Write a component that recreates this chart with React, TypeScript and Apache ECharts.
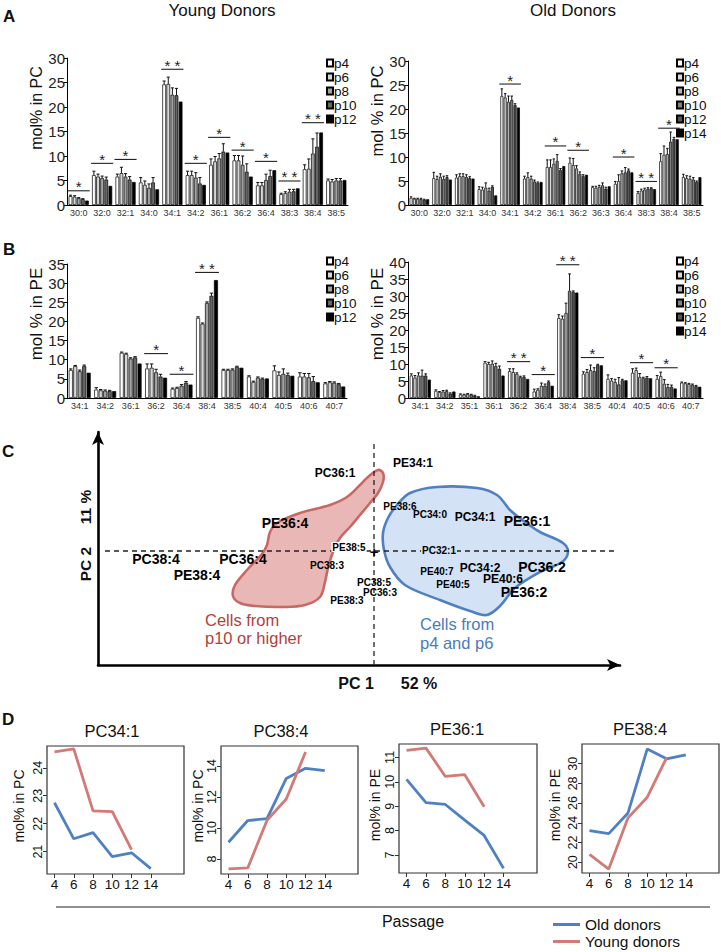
import React, { useEffect, useRef } from 'react';
import * as echarts from 'echarts';

// ---------------- DATA ----------------
const pcYoungCats = ['30:0', '32:0', '32:1', '34:0', '34:1', '34:2', '36:1', '36:2', '36:4', '38:3', '38:4', '38:5'];
const pcOldCats = ['30:0', '32:0', '32:1', '34:0', '34:1', '34:2', '36:1', '36:2', '36:3', '36:4', '38:3', '38:4', '38:5'];
const peYoungCats = ['34:1', '34:2', '36:1', '36:2', '36:4', '38:4', '38:5', '40:4', '40:5', '40:6', '40:7'];
const peOldCats = ['34:1', '34:2', '35:1', '36:1', '36:2', '36:4', '38:4', '38:5', '40:4', '40:5', '40:6', '40:7'];
const youngPassages = ['p4', 'p6', 'p8', 'p10', 'p12'];
const oldPassages = ['p4', 'p6', 'p8', 'p10', 'p12', 'p14'];

// mol% in PC, young donors (rows: p4..p12)
const pcYoungMean = [
  [1.8, 6.1, 5.8, 4.6, 24.6, 6.1, 8.2, 9.1, 4.0, 2.2, 7.3, 5.0],
  [1.7, 5.8, 6.5, 4.1, 24.7, 6.1, 8.9, 9.1, 4.0, 2.4, 7.4, 4.8],
  [1.4, 5.5, 5.8, 3.5, 22.5, 5.6, 9.5, 8.2, 5.1, 2.7, 10.5, 5.0],
  [1.2, 5.2, 5.2, 4.6, 22.4, 4.4, 10.9, 6.8, 5.9, 2.8, 11.9, 5.0],
  [0.9, 3.9, 4.7, 3.2, 21.1, 4.1, 10.7, 5.8, 7.1, 3.4, 14.8, 5.1],
];
const pcYoungErr = [
  [0.2, 0.8, 0.5, 1.0, 0.7, 0.8, 1.2, 1.0, 0.6, 0.2, 0.9, 0.3],
  [0.2, 0.5, 1.2, 0.8, 1.4, 0.8, 1.0, 1.0, 0.6, 0.3, 2.0, 0.4],
  [0.1, 0.4, 0.6, 0.8, 1.4, 1.0, 1.0, 1.8, 1.2, 0.5, 3.0, 0.4],
  [0.1, 0.5, 0.6, 1.0, 1.4, 1.2, 1.6, 1.6, 1.2, 0.4, 2.8, 0.4],
  [0, 0, 0, 0, 0, 0, 0, 0, 0, 0, 0, 0],
];
const pcYoungSig = [[0, 2.9, '*'], [1, 8.5, '*'], [2, 9.3, '*'], [4, 27.7, '* *'], [5, 8.5, '*'], [6, 13.8, '*'], [7, 11.2, '*'], [8, 8.9, '*'], [9, 4.9, '* *'], [10, 16.8, '* *']];

// mol% in PC, old donors (rows: p4..p14)
const pcOldMean = [
  [1.5, 5.6, 5.7, 3.3, 22.7, 5.5, 7.9, 8.8, 3.7, 4.4, 2.5, 9.1, 5.8],
  [1.3, 5.4, 6.0, 3.2, 22.4, 5.8, 7.9, 8.3, 3.6, 5.0, 3.0, 10.5, 5.6],
  [1.3, 5.9, 6.0, 3.6, 21.5, 5.5, 8.6, 7.6, 3.8, 6.6, 3.2, 10.6, 5.5],
  [1.3, 5.4, 5.8, 3.0, 21.9, 4.9, 9.2, 6.5, 4.1, 6.8, 3.4, 13.2, 5.3],
  [1.1, 5.8, 5.6, 3.8, 20.8, 4.6, 7.3, 6.0, 3.4, 7.2, 3.5, 13.8, 4.8],
  [1.2, 5.3, 5.5, 2.0, 20.3, 4.8, 8.1, 6.3, 3.9, 6.8, 3.3, 13.7, 5.8],
];
const pcOldErr = [
  [0.2, 1.2, 0.6, 0.5, 1.5, 0.5, 1.5, 1.0, 0.2, 0.5, 0.3, 1.6, 0.6],
  [0.1, 0.6, 0.5, 0.5, 0.8, 0.9, 1.5, 1.4, 0.3, 1.3, 0.3, 1.8, 0.5],
  [0.1, 0.6, 0.5, 1.0, 1.2, 0.5, 1.0, 0.6, 0.3, 0.5, 0.3, 1.2, 0.5],
  [0.1, 0.6, 0.5, 0.5, 0.8, 0.3, 1.3, 0.4, 0.5, 1.0, 0.2, 2.0, 0.4],
  [0.1, 0.3, 0.3, 0.2, 0.3, 0.2, 0.3, 0.3, 0.3, 0.3, 0.1, 0.3, 0.2],
  [0, 0, 0, 0, 0, 0, 0, 0, 0, 0, 0, 0, 0],
];
const pcOldSig = [[4, 25.2, '*'], [6, 12.3, '*'], [7, 11.4, '*'], [9, 10.0, '*'], [10, 4.9, '* *'], [11, 16.0, '*']];

// mol% in PE, young donors
const peYoungMean = [
  [7.3, 2.2, 11.8, 7.7, 2.4, 20.9, 7.3, 5.6, 7.2, 5.6, 3.8],
  [8.3, 2.0, 11.5, 7.9, 2.6, 19.4, 7.3, 4.2, 6.0, 5.6, 4.1],
  [7.0, 1.9, 10.3, 6.7, 3.2, 24.8, 7.4, 5.3, 6.3, 5.4, 4.0],
  [8.3, 1.8, 10.6, 5.6, 4.0, 26.7, 8.1, 5.0, 6.0, 4.4, 3.6],
  [6.6, 1.8, 9.0, 5.3, 3.5, 30.8, 7.9, 5.1, 5.8, 4.1, 3.0],
];
const peYoungErr = [
  [0.3, 0.5, 0.2, 1.2, 0.2, 0.3, 0.2, 0.2, 1.2, 1.0, 0.2],
  [0.2, 0.2, 0.2, 1.0, 0.2, 0.2, 0.2, 0.2, 0.8, 0.8, 0.2],
  [0.3, 0.2, 0.2, 0.8, 0.3, 0.3, 0.2, 0.2, 1.3, 1.0, 0.2],
  [0.3, 0.2, 0.2, 0.6, 0.3, 0.7, 0.2, 0.2, 0.5, 1.2, 0.2],
  [0, 0, 0, 0, 0, 0, 0, 0, 0, 0, 0],
];
const peYoungSig = [[3, 11.6, '*'], [4, 6.2, '*'], [5, 32.8, '* *']];

// mol% in PE, old donors
const peOldMean = [
  [6.6, 2.1, 1.0, 10.4, 7.9, 1.9, 23.5, 7.1, 5.6, 7.4, 5.6, 4.5],
  [6.0, 1.7, 1.0, 10.0, 7.6, 2.4, 23.3, 7.6, 5.1, 8.2, 6.4, 4.3],
  [6.6, 1.9, 1.2, 10.1, 7.1, 3.6, 25.0, 8.2, 4.7, 6.2, 4.2, 4.1],
  [6.6, 2.0, 1.0, 9.4, 6.1, 3.6, 31.5, 7.9, 4.0, 5.8, 3.2, 3.9],
  [6.6, 1.3, 0.7, 8.6, 6.2, 4.7, 31.2, 9.7, 5.2, 6.0, 3.3, 3.5],
  [5.4, 1.9, 0.5, 6.6, 5.6, 3.6, 31.0, 9.6, 5.2, 5.8, 2.8, 3.3],
];
const peOldErr = [
  [0.5, 0.3, 0.2, 0.3, 0.7, 0.7, 1.0, 0.6, 1.2, 1.2, 1.0, 0.2],
  [0.6, 0.2, 0.1, 0.5, 1.0, 0.3, 0.8, 0.8, 0.6, 0.6, 1.2, 0.2],
  [0.8, 0.3, 0.1, 0.8, 0.3, 0.8, 2.9, 1.5, 0.8, 1.0, 1.2, 0.2],
  [1.6, 0.3, 0.1, 0.8, 0.3, 0.5, 5.0, 1.0, 2.0, 0.3, 0.8, 0.2],
  [0.5, 0.2, 0.1, 0.8, 0.3, 0.3, 0.3, 0.2, 0.3, 0.3, 0.5, 0.2],
  [0, 0, 0, 0, 0, 0, 0, 0, 0, 0, 0, 0],
];
const peOldSig = [[4, 10.7, '* *'], [5, 6.9, '*'], [6, 39.2, '* *'], [7, 11.9, '*'], [9, 10.4, '*'], [10, 8.9, '*']];

// Panel C: scores (PC1, PC2) in arbitrary units
const cLabelNames = ['PC36:1', 'PE34:1', 'PE36:4', 'PC38:4', 'PC36:4', 'PE38:4', 'PE38:5', 'PC38:3', 'PC38:5', 'PC36:3', 'PE38:3', 'PE38:6', 'PC34:0', 'PC34:1', 'PE36:1', 'PC32:1', 'PE40:7', 'PC34:2', 'PC36:2', 'PE40:6', 'PE40:5', 'PE36:2'];
const cLabelPC1 = [-39, 39, -89, -218, -131, -177, -25, -47, 0, 6, -27, 26, 56, 101, 153, 65, 63, 106, 168, 129, 79, 150];
const cLabelPC2 = [78, 88, 28, -8, -8, -24, 4, -14, -31, -41, -49, 45, 37, 34, 30, 1, -20, -17, -16, -28, -33, -41];
const lateRegion = [[4, 81], [9, 78], [9, 69], [4, 58], [-4, 48], [-14, 36], [-24, 24], [-34, 13], [-41, -1], [-46, -17], [-49, -31], [-54, -46], [-69, -54], [-91, -56], [-119, -55], [-134, -52], [-141, -45], [-139, -34], [-127, -19], [-112, -3], [-107, 6], [-104, 19], [-97, 28], [-74, 38], [-44, 46], [-27, 54], [-14, 66], [-6, 74]];
const earlyRegion = [[9, 18], [14, 33], [23, 46], [36, 58], [63, 64], [103, 63], [123, 56], [136, 41], [151, 29], [166, 19], [189, 8], [194, -1], [188, -11], [166, -21], [141, -37], [126, -55], [113, -64], [96, -60], [66, -49], [31, -34], [16, -16], [10, 1]];

// Panel D
const passageNums = [4, 6, 8, 10, 12, 14];
const pc341Old = [22.75, 21.46, 21.68, 20.82, 20.96, 20.39];
const pc341Young = [24.57, 24.68, 22.46, 22.43, 21.07];
const pc384Old = [9.08, 10.48, 10.6, 13.2, 13.85, 13.7];
const pc384Young = [7.36, 7.42, 10.5, 11.87, 14.9];
const pe361Old = [10.1, 9.15, 9.07, 8.43, 7.8, 6.45];
const pe361Young = [11.29, 11.38, 10.22, 10.29, 8.98];
const pe384Old = [23.2, 22.9, 25.0, 31.5, 30.5, 30.9];
const pe384Young = [20.8, 19.3, 24.5, 26.6, 30.6];
const pc341Ticks = [21, 22, 23, 24];
const pc384Ticks = [8, 10, 12, 14];
const pe361Ticks = [7, 8, 9, 10, 11];
const pe384Ticks = [20, 22, 24, 26, 28, 30];

// ---------------- STYLE / LAYOUT ----------------
const FONT = 'Liberation Sans, Arial, Helvetica, sans-serif';
const CAT_GAP = 0.14;
const BAR_GAP = 0.12;
const youngColors = ['#ffffff', '#d6d6d6', '#a3a3a3', '#666666', '#000000'];
const oldColors = ['#ffffff', '#d9d9d9', '#b3b3b3', '#808080', '#555555', '#000000'];
const BLUE = '#4f80c3';
const RED = '#d27a76';

const C_ORIGIN = { x: 374, y: 551 };
const C_GRID = { left: 98, top: 432, width: 522, height: 233 };

function barOffset(bandW: number, n: number, si: number) {
  const total = bandW * (1 - CAT_GAP);
  const w = total / (n + (n - 1) * BAR_GAP);
  return { total, w, off: -total / 2 + si * w * (1 + BAR_GAP) + w / 2 };
}

function barBlock(gi: number, key: string, cats: string[], passages: string[], values: number[][], errs: number[][], sig: any[], colors: string[], yMax: number, grid: any, legendPos: any) {
  const n = passages.length;
  const series: any[] = passages.map((p, si) => ({
    type: 'bar',
    name: key + '|' + p,
    xAxisIndex: gi,
    yAxisIndex: gi,
    data: values[si],
    barGap: BAR_GAP * 100 + '%',
    barCategoryGap: CAT_GAP * 100 + '%',
    itemStyle: { color: colors[si], borderColor: '#000', borderWidth: 0.7 },
    silent: true,
    z: 2,
  }));
  const errData: number[][] = [];
  passages.forEach((p, si) => errs[si].forEach((e, ci) => errData.push([ci, si, values[si][ci], e])));
  series.push({
    type: 'custom',
    xAxisIndex: gi,
    yAxisIndex: gi,
    data: errData,
    encode: { x: 0, y: 2 },
    silent: true,
    z: 3,
    renderItem: (params: any, api: any) => {
      const ci = api.value(0), si = api.value(1), v = api.value(2), e = api.value(3);
      if (!(e > 0)) return null;
      const bandW = api.size([1, 0])[0];
      const { w, off } = barOffset(bandW, n, si);
      const base = api.coord([ci, v]);
      const top = api.coord([ci, v + e]);
      const x = base[0] + off;
      const cap = w * 0.42;
      return {
        type: 'group',
        children: [
          { type: 'line', shape: { x1: x, y1: base[1], x2: x, y2: top[1] }, style: { stroke: '#111', lineWidth: 1 } },
          { type: 'line', shape: { x1: x - cap, y1: top[1], x2: x + cap, y2: top[1] }, style: { stroke: '#111', lineWidth: 1 } },
        ],
      };
    },
  });
  series.push({
    type: 'custom',
    xAxisIndex: gi,
    yAxisIndex: gi,
    data: sig.map((s) => [s[0], s[1]]),
    encode: { x: 0, y: 1 },
    silent: true,
    z: 4,
    renderItem: (params: any, api: any) => {
      const label = sig[params.dataIndex][2];
      const bandW = api.size([1, 0])[0];
      const { total } = barOffset(bandW, n, 0);
      const p = api.coord([api.value(0), api.value(1)]);
      return {
        type: 'group',
        children: [
          { type: 'line', shape: { x1: p[0] - total / 2 - 1, y1: p[1], x2: p[0] + total / 2 + 1, y2: p[1] }, style: { stroke: '#222', lineWidth: 1.1 } },
          { type: 'text', style: { text: label, x: p[0], y: p[1] - 4, textAlign: 'center', align: 'center', textVerticalAlign: 'middle', verticalAlign: 'middle', fontSize: 15, fontFamily: FONT, fill: '#222' } },
        ],
      };
    },
  });
  const xAxis = {
    type: 'category', gridIndex: gi, data: cats,
    axisTick: { show: false },
    axisLine: { show: true, lineStyle: { color: '#000', width: 1 } },
    axisLabel: { interval: 0, fontSize: 9, color: '#333', margin: 3, fontFamily: FONT },
  };
  const yAxis = {
    type: 'value', gridIndex: gi, min: 0, max: yMax, interval: 5,
    axisLine: { show: true, lineStyle: { color: '#000', width: 1 } },
    axisTick: { show: true, length: 3, lineStyle: { color: '#000' } },
    axisLabel: { fontSize: 15, margin: 2, color: '#222', fontFamily: FONT },
    splitLine: { show: false },
  };
  const legend = {
    data: passages.map((p) => key + '|' + p),
    orient: 'vertical', left: legendPos.left, top: legendPos.top,
    itemWidth: 6, itemHeight: 7, itemGap: 0, icon: 'rect', selectedMode: false, padding: 0,
    formatter: (nm: string) => nm.split('|')[1],
    textStyle: { fontSize: 13.5, lineHeight: 11.3, color: '#111', fontFamily: FONT, padding: [0, 0, 0, -4] },
  };
  return { series, xAxis, yAxis, legend, grid: { ...grid } };
}

function lineBlock(gi: number, oldVals: number[], youngVals: number[], yMin: number, yMax: number, ticks: number[], grid: any) {
  const xAxis = {
    type: 'value', gridIndex: gi, min: 3.22, max: 17.45,
    axisLine: { show: false },
    axisTick: { show: true, length: 4, customValues: passageNums, lineStyle: { color: '#333' } },
    axisLabel: { customValues: passageNums, fontSize: 13.5, margin: 3, color: '#111', fontFamily: FONT },
    splitLine: { show: false },
  };
  const yAxis = {
    type: 'value', gridIndex: gi, min: yMin, max: yMax,
    axisLine: { show: false },
    axisTick: { show: true, length: 4, customValues: ticks, lineStyle: { color: '#333' } },
    axisLabel: { customValues: ticks, fontSize: 12.5, margin: 3, rotate: 90, color: '#111', fontFamily: FONT },
    splitLine: { show: false },
  };
  const series = [
    { type: 'line', name: 'Old donors', xAxisIndex: gi, yAxisIndex: gi, data: passageNums.map((p, i) => [p, oldVals[i]]), showSymbol: false, symbol: 'none', color: BLUE, lineStyle: { color: BLUE, width: 2.8 }, silent: true },
    { type: 'line', name: 'Young donors', xAxisIndex: gi, yAxisIndex: gi, data: youngVals.map((v, i) => [passageNums[i], v]), showSymbol: false, symbol: 'none', color: RED, lineStyle: { color: RED, width: 2.8 }, silent: true },
  ];
  return { series, xAxis, yAxis, grid: { ...grid, show: true, borderColor: '#333', borderWidth: 1.2, backgroundColor: 'transparent' } };
}

function txt(text: string, x: number, y: number, o: any = {}) {
  return {
    type: 'text', x, y, rotation: o.rot || 0, silent: true, z: 100,
    style: {
      text, x: 0, y: 0,
      fill: o.color || '#111',
      fontSize: o.size || 14,
      fontWeight: o.bold ? 'bold' : 'normal',
      fontFamily: FONT,
      textAlign: o.align || 'center', align: o.align || 'center',
      textVerticalAlign: 'middle', verticalAlign: 'middle',
    },
  };
}

function buildOption() {
  const blocks = [
    barBlock(0, 'pcY', pcYoungCats, youngPassages, pcYoungMean, pcYoungErr, pcYoungSig, youngColors, 30, { left: 67, top: 58, width: 281, height: 147 }, { left: 326, top: 56 }),
    barBlock(1, 'pcO', pcOldCats, oldPassages, pcOldMean, pcOldErr, pcOldSig, oldColors, 30, { left: 408, top: 61, width: 295, height: 144 }, { left: 676, top: 56 }),
    barBlock(2, 'peY', peYoungCats, youngPassages, peYoungMean, peYoungErr, peYoungSig, youngColors, 35, { left: 67, top: 264, width: 280, height: 134 }, { left: 326, top: 254 }),
    barBlock(3, 'peO', peOldCats, oldPassages, peOldMean, peOldErr, peOldSig, oldColors, 40, { left: 408, top: 262, width: 295, height: 136 }, { left: 676, top: 254 }),
  ];
  const lines = [
    lineBlock(5, pc341Old, pc341Young, 20.2, 24.78, pc341Ticks, { left: 47, top: 746, width: 137, height: 128 }),
    lineBlock(6, pc384Old, pc384Young, 7.03, 15.29, pc384Ticks, { left: 221, top: 746, width: 137, height: 128 }),
    lineBlock(7, pe361Old, pe361Young, 6.26, 11.55, pe361Ticks, { left: 399, top: 744, width: 138, height: 129 }),
    lineBlock(8, pe384Old, pe384Young, 18.9, 32.0, pe384Ticks, { left: 582, top: 744, width: 137, height: 129 }),
  ];

  // Panel C axes
  const cXMin = C_GRID.left - C_ORIGIN.x;
  const cXMax = C_GRID.left + C_GRID.width - C_ORIGIN.x;
  const cYMax = C_ORIGIN.y - C_GRID.top;
  const cYMin = C_ORIGIN.y - (C_GRID.top + C_GRID.height);
  const cAxisCommon = {
    axisLine: { show: true, onZero: false, symbol: ['none', 'arrow'], symbolSize: [9, 13], lineStyle: { color: '#000', width: 2.6 } },
    axisTick: { show: false }, axisLabel: { show: false }, splitLine: { show: false },
  };
  const cXAxis = { type: 'value', gridIndex: 4, min: cXMin, max: cXMax, ...cAxisCommon };
  const cYAxis = { type: 'value', gridIndex: 4, min: cYMin, max: cYMax, ...cAxisCommon };

  const bigLabels = new Set(['PE36:4', 'PC38:4', 'PC36:4', 'PE38:4', 'PE36:1', 'PC36:2', 'PE36:2']);
  const midLabels = new Set(['PC36:1', 'PE34:1', 'PC34:1', 'PC34:2', 'PE40:6']);
  const labelBg: any = { 'PC32:1': '#d3e2f4', 'PE38:5': '#ffffff' };

  const regionSeries = (pts: number[][], fill: string, stroke: string) => ({
    type: 'custom', xAxisIndex: 4, yAxisIndex: 4, silent: true, z: 1, clip: false,
    data: [[0, 0]],
    renderItem: (params: any, api: any) => ({
      type: 'polygon',
      shape: { points: pts.map((p) => api.coord(p)), smooth: 0.35 },
      style: { fill, stroke, lineWidth: 2.6 },
    }),
  });

  const labelCommon = { show: true, position: 'inside', formatter: '{b}', fontWeight: 'bold', color: '#000', fontFamily: FONT, textBorderWidth: 0, opacity: 1 };
  const cSeries: any[] = [
    regionSeries(lateRegion, '#e9b7b5', '#c86864'),
    regionSeries(earlyRegion, '#d3e2f4', '#4f80c3'),
    { type: 'line', xAxisIndex: 4, yAxisIndex: 4, silent: true, z: 2, symbol: 'none', data: [[0, cYMin], [0, 108]], lineStyle: { color: '#222', width: 1.3, type: [5, 4] } },
    { type: 'line', xAxisIndex: 4, yAxisIndex: 4, silent: true, z: 2, symbol: 'none', data: [[-269, 0], [241, 0]], lineStyle: { color: '#222', width: 1.3, type: [5, 4] } },
    {
      type: 'scatter', xAxisIndex: 4, yAxisIndex: 4, silent: true, z: 5, symbolSize: 1, itemStyle: { color: 'rgba(0,0,0,0)', opacity: 1 },
      data: [{ name: '+', value: [0, 0] }],
      label: { ...labelCommon, fontSize: 15 },
    },
    {
      type: 'scatter', xAxisIndex: 4, yAxisIndex: 4, silent: true, z: 5, symbolSize: 1, itemStyle: { color: 'rgba(0,0,0,0)', opacity: 1 },
      data: cLabelNames.map((nm, i) => ({
        name: nm,
        value: [cLabelPC1[i], cLabelPC2[i]],
        label: {
          fontSize: bigLabels.has(nm) ? 14 : midLabels.has(nm) ? 12 : 10,
          backgroundColor: labelBg[nm] || 'transparent',
          padding: labelBg[nm] ? [0, 1] : 0,
        },
      })),
      label: labelCommon,
    },
  ];

  const graphic = [
    txt('A', 3, 16, { size: 17, bold: true, align: 'left' }),
    txt('Young Donors', 222, 10, { size: 17 }),
    txt('Old Donors', 573, 10, { size: 17 }),
    txt('mol% in PC', 36, 108, { size: 16, rot: Math.PI / 2 }),
    txt('mol % in PC', 377, 111, { size: 16.5, rot: Math.PI / 2 }),
    txt('B', 3, 249, { size: 17, bold: true, align: 'left' }),
    txt('mol % in PE', 36, 314, { size: 17, rot: Math.PI / 2 }),
    txt('mol % in PE', 377, 314, { size: 17, rot: Math.PI / 2 }),
    txt('C', 2, 451, { size: 17, bold: true, align: 'left' }),
    txt('PC 2', 85, 564, { size: 15.5, bold: true, rot: Math.PI / 2 }),
    txt('11 %', 85, 507, { size: 15.5, bold: true, rot: Math.PI / 2 }),
    txt('PC 1', 356, 683, { size: 16, bold: true }),
    txt('52 %', 419, 683, { size: 16, bold: true }),
    txt('Cells from', 205, 620, { size: 16.5, color: '#b23f3b', align: 'left' }),
    txt('p10 or higher', 205, 638, { size: 16.5, color: '#b23f3b', align: 'left' }),
    txt('Cells from', 420, 624, { size: 16.5, color: '#4a7bbf', align: 'left' }),
    txt('p4 and p6', 420, 643, { size: 16.5, color: '#4a7bbf', align: 'left' }),
    txt('D', 2, 719, { size: 17, bold: true, align: 'left' }),
    txt('PC34:1', 112, 731, { size: 16.5 }),
    txt('PC38:4', 281, 731, { size: 16.5 }),
    txt('PE36:1', 457, 729, { size: 16.5 }),
    txt('PE38:4', 640, 729, { size: 16.5 }),
    txt('mol% in PC', 19, 806, { size: 14, rot: Math.PI / 2 }),
    txt('mol% in PC', 198, 806, { size: 14, rot: Math.PI / 2 }),
    txt('mol% in PE', 375, 805, { size: 14, rot: Math.PI / 2 }),
    txt('mol% in PE', 555, 805, { size: 14, rot: Math.PI / 2 }),
    txt('Passage', 413, 921, { size: 16 }),
    { type: 'line', silent: true, shape: { x1: 56, y1: 907, x2: 710, y2: 907 }, style: { stroke: '#222', lineWidth: 1.2 } },
  ];

  const grids: any[] = [];
  const xAxes: any[] = [];
  const yAxes: any[] = [];
  const series: any[] = [];
  blocks.forEach((b) => { grids.push(b.grid); xAxes.push(b.xAxis); yAxes.push(b.yAxis); series.push(...b.series); });
  grids.push({ ...C_GRID });
  xAxes.push(cXAxis);
  yAxes.push(cYAxis);
  series.push(...cSeries);
  lines.forEach((b) => { grids.push(b.grid); xAxes.push(b.xAxis); yAxes.push(b.yAxis); series.push(...b.series); });

  const legends: any[] = blocks.map((b) => b.legend);
  legends.push({
    data: ['Old donors', 'Young donors'], orient: 'vertical', left: 553, top: 916,
    icon: 'rect', itemWidth: 27, itemHeight: 3, itemGap: 0, selectedMode: false, padding: 0,
    textStyle: { fontSize: 15.5, lineHeight: 17, color: '#111', fontFamily: FONT },
  });

  return {
    animation: false,
    backgroundColor: '#ffffff',
    textStyle: { fontFamily: FONT },
    grid: grids,
    xAxis: xAxes,
    yAxis: yAxes,
    legend: legends,
    series,
    graphic,
  };
}

export default function App() {
  const ref = useRef<HTMLDivElement>(null);
  useEffect(() => {
    if (!ref.current) return;
    const chart = echarts.init(ref.current, undefined, { renderer: 'svg' });
    chart.setOption(buildOption() as any);
    return () => chart.dispose();
  }, []);
  return <div ref={ref} style={{ position: 'absolute', left: 0, top: 0, width: 721, height: 952, background: '#fff' }} />;
}
